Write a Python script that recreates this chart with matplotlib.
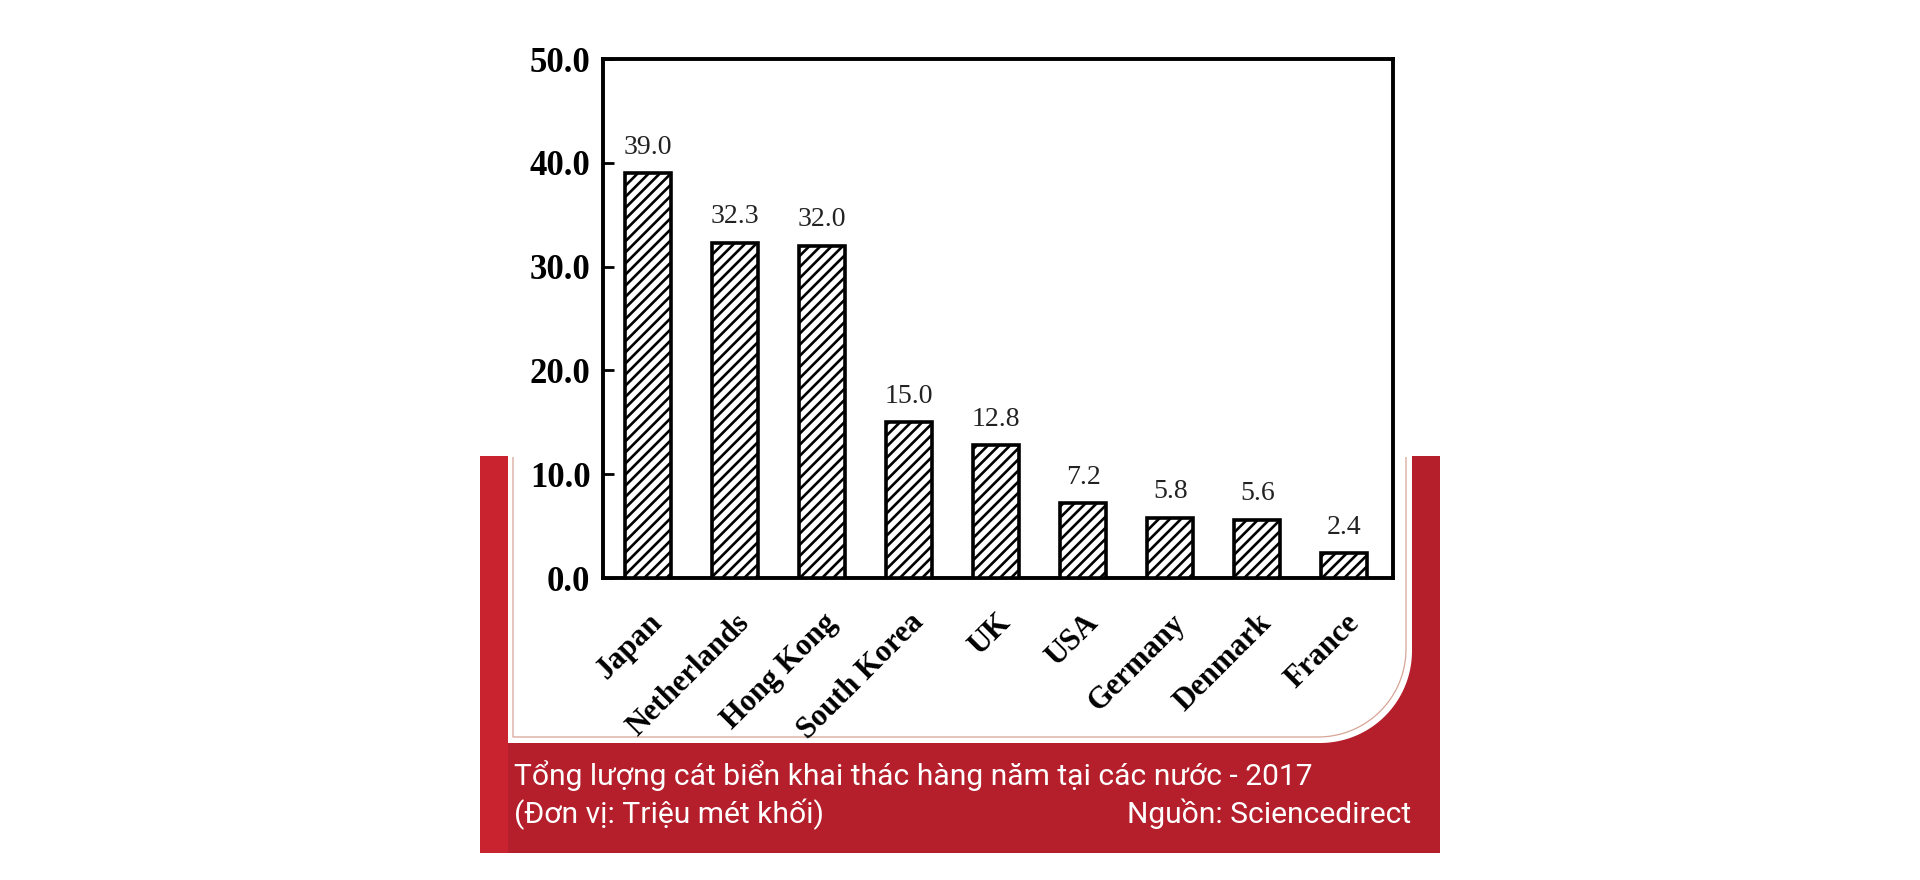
import numpy as np
import matplotlib
matplotlib.use("Agg")
import matplotlib.pyplot as plt
from matplotlib.path import Path
from matplotlib.patches import PathPatch, Rectangle
from matplotlib.transforms import ScaledTranslation

# ---- data ----
countries = ["Japan", "Netherlands", "Hong Kong", "South Korea", "UK",
             "USA", "Germany", "Denmark", "France"]
values = [39.0, 32.3, 32.0, 15.0, 12.8, 7.2, 5.8, 5.6, 2.4]
y_ticks = [0, 10, 20, 30, 40, 50]
title_text = "Tổng lượng cát biển khai thác hàng năm tại các nước - 2017"
unit_text = "(Đơn vị: Triệu mét khối)"
source_text = "Nguồn: Sciencedirect"

W, H = 1920, 880
RED = "#b51f2b"
plt.rcParams["hatch.linewidth"] = 1.9
plt.rcParams["hatch.color"] = "black"

fig = plt.figure(figsize=(W / 100, H / 100), dpi=100)
fig.patch.set_facecolor("white")

# ---- background decoration (pixel coordinates) ----
bg = fig.add_axes([0, 0, 1, 1], zorder=0)
bg.set_xlim(0, W)
bg.set_ylim(H, 0)
bg.axis("off")
bg.add_patch(Rectangle((480, 456), 960, 397, facecolor=RED, edgecolor="none"))
bg.add_patch(Rectangle((480, 456), 28, 397, facecolor="#c92330", edgecolor="none"))


def rounded_panel(x0, x1, ytop, ybot, r, n=40):
    th = np.linspace(0, np.pi / 2, n)
    pts = [(x0, ytop), (x0, ybot)]
    pts += list(zip(x1 - r + r * np.sin(th), ybot - r + r * np.cos(th)))
    pts += [(x1, ytop)]
    return pts


panel = rounded_panel(508, 1412, 300, 743, 92)
bg.add_patch(PathPatch(Path(panel + [panel[0]], closed=True), facecolor="white", edgecolor="none"))
line = rounded_panel(513, 1406, 457, 737, 88)
bg.add_patch(PathPatch(Path(line), facecolor="none", edgecolor="#d7a595", lw=0.9))

# ---- chart ----
L, R, T, B = 603, 1393, 59, 578
ax = fig.add_axes([L / W, 1 - B / H, (R - L) / W, (B - T) / H], zorder=2)
ax.set_facecolor("white")
x = np.arange(len(countries))
ax.bar(x, values, width=0.53, facecolor="white", edgecolor="black",
       linewidth=2.6, hatch="///", zorder=3)
ax.set_xlim(-0.52, 8.56)
ax.set_ylim(0, 50)
ax.set_yticks(y_ticks)
ax.set_yticklabels([f"{v:.1f}" for v in y_ticks],
                   fontfamily="Liberation Serif", fontweight="bold", fontsize=25)
ax.tick_params(axis="y", direction="in", length=8, width=2, pad=9)
ax.tick_params(axis="x", length=0, pad=6)
ax.set_xticks(x)
ax.set_xticklabels(countries, rotation=45, ha="right", va="top", rotation_mode="anchor",
                   fontfamily="Liberation Serif", fontweight="bold", fontsize=22)
for lbl in ax.get_xticklabels():
    lbl.set_transform(lbl.get_transform() + ScaledTranslation(0, -22 / 100, fig.dpi_scale_trans))
for s in ax.spines.values():
    s.set_linewidth(2.8)
for xi, v in zip(x, values):
    ax.annotate(f"{v:.1f}", (xi, v), xytext=(0, 14), textcoords="offset points",
                ha="center", va="baseline", fontfamily="Liberation Serif",
                fontsize=20, color="#222222")

# ---- captions ----
fig.text(514 / W, 1 - 776 / H, title_text, color="white", fontfamily="Roboto",
         fontsize=21.6, ha="left", va="center", zorder=5)
fig.text(514 / W, 1 - 814 / H, unit_text, color="white", fontfamily="Roboto",
         fontsize=21.6, ha="left", va="center", zorder=5)
fig.text(1411 / W, 1 - 814 / H, source_text, color="white", fontfamily="Roboto",
         fontsize=21.6, ha="right", va="center", zorder=5)

fig.savefig("out.png", dpi=100, facecolor="white")
